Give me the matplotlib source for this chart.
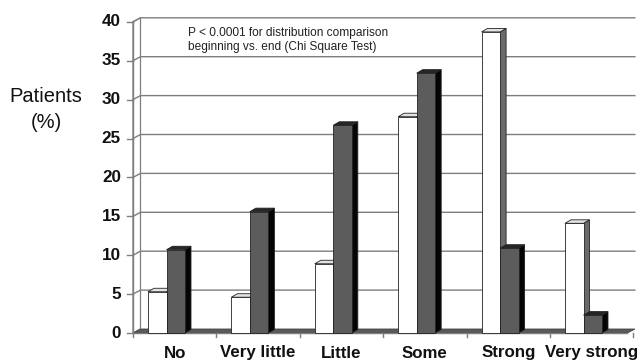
import matplotlib
matplotlib.use("Agg")
import matplotlib.pyplot as plt
from matplotlib.patches import Polygon

# Patient ratings at the beginning (white) and end (dark) of the period, in %
categories = ["No", "Very little", "Little", "Some", "Strong", "Very strong"]
beginning = [5.3, 4.6, 8.9, 27.8, 38.7, 14.1]
end = [10.7, 15.6, 26.7, 33.4, 10.9, 2.3]
yticks = [0, 5, 10, 15, 20, 25, 30, 35, 40]
note = "P < 0.0001 for distribution comparison\nbeginning vs. end (Chi Square Test)"

plt.rcParams["font.family"] = ["Liberation Sans", "DejaVu Sans"]

# pixel scale of the layout: one category step and one % unit
CAT_PX = 83.4
UNIT_PX = 7.78
W, H = 641, 363
X0, Y0 = 133, 333          # front corner of the floor, in pixels


def px_x(p):
    return p / CAT_PX


def px_y(p):
    return p / UNIT_PX


fig = plt.figure(figsize=(W / 100, H / 100), dpi=100)
ax = fig.add_axes([0, 0, 1, 1])
ax.set_xlim(-X0 / CAT_PX, (W - X0) / CAT_PX)
ax.set_ylim(-(H - Y0) / UNIT_PX, Y0 / UNIT_PX)
ax.axis("off")

# depth of walls and of the columns
wdx, wdy = px_x(7.5), px_y(4)
bdx, bdy = px_x(6), px_y(3.5)
n = len(categories)
x_end = n - px_x(6)
top = yticks[-1]
grid_col = "#7e7e7e"

# left wall
ax.add_patch(Polygon([(0, 0), (wdx, wdy), (wdx, top + wdy), (0, top)],
                     closed=True, facecolor="white", edgecolor=grid_col, lw=0.9, zorder=1))
# gridlines across the side wall and back wall
for t in yticks[1:]:
    ax.plot([0, wdx, x_end + wdx], [t, t + wdy, t + wdy], color=grid_col, lw=1.0, zorder=1)
# floor
ax.add_patch(Polygon([(0, 0), (x_end, 0), (x_end + wdx, wdy), (wdx, wdy)],
                     closed=True, facecolor="#5a5a5a", edgecolor="#444444", lw=0.6, zorder=2))

# y axis with outward ticks
ax.plot([0, 0], [0, top], color=grid_col, lw=1.0, zorder=3)
for t in yticks:
    ax.plot([-px_x(6), 0], [t, t], color=grid_col, lw=1.0, zorder=3)
    ax.text(-px_x(12), t, str(t), ha="right", va="center", fontsize=12.3,
            fontweight="bold", color="#111111")

# x axis line and category ticks
ax.plot([0, x_end], [0, 0], color=grid_col, lw=1.0, zorder=3)
for i in range(n + 1):
    ax.plot([i, i], [0, -px_y(4)], color=grid_col, lw=1.0, zorder=3)
for i, c in enumerate(categories):
    ax.text(i + 0.5, -px_y(20), c, ha="center", va="center", fontsize=12.2,
            fontweight="bold", color="#111111")


def column(x, w, v, front, topc, side):
    ax.add_patch(Polygon([(x + w, 0), (x + w + bdx, bdy), (x + w + bdx, v + bdy), (x + w, v)],
                         closed=True, facecolor=side, edgecolor="#222222", lw=0.6, zorder=4))
    ax.add_patch(Polygon([(x, v), (x + w, v), (x + w + bdx, v + bdy), (x + bdx, v + bdy)],
                         closed=True, facecolor=topc, edgecolor="#222222", lw=0.6, zorder=4))
    ax.add_patch(Polygon([(x, 0), (x + w, 0), (x + w, v), (x, v)],
                         closed=True, facecolor=front, edgecolor="#222222", lw=0.6, zorder=4))


bw = px_x(18.5)
off = px_x(15)
for i in range(n):
    column(i + off, bw, beginning[i], "white", "#e2e2e2", "#6a6a6a")
    column(i + off + bw, bw, end[i], "#5c5c5c", "#262626", "#050505")

# axis title and test note
ax.text(-px_x(87), px_y(Y0 - 97), "Patients", ha="center", va="center", fontsize=14.5,
        color="#111111")
ax.text(-px_x(87), px_y(Y0 - 123), "(%)", ha="center", va="center", fontsize=14.5,
        color="#111111")
ax.text(px_x(188 - X0), px_y(Y0 - 40), note, ha="left", va="center", fontsize=8.6,
        color="#222222", linespacing=1.2)

fig.savefig("out.png", dpi=100)
